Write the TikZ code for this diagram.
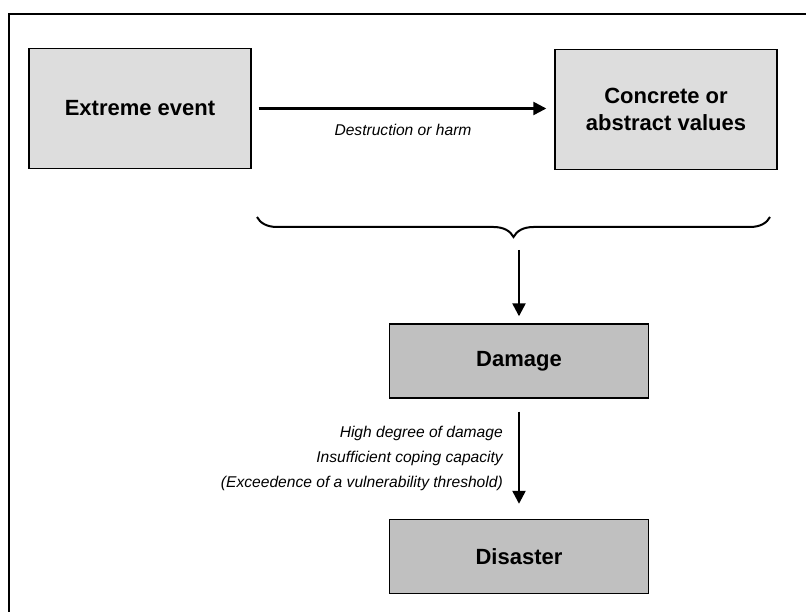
\documentclass[tikz,border=0pt]{standalone}
\usepackage{fontspec}
\setmainfont{Liberation Sans}
\usetikzlibrary{arrows.meta, positioning, decorations.pathreplacing}
\definecolor{boxlight}{HTML}{DDDDDD}
\definecolor{boxdark}{HTML}{C0C0C0}

\begin{document}
\begin{tikzpicture}[
    x=1pt, y=-1pt,
    block/.style={rectangle, draw, line width=1.4pt, minimum width=222pt, minimum height=120pt, align=center, fill=boxlight, inner sep=0pt, font=\fontsize{22}{27}\selectfont\bfseries},
    result/.style={block, fill=boxdark, minimum width=259pt, minimum height=74pt},
    arrow/.style={-{Triangle[length=13pt, width=13pt]}, line width=2.4pt},
    note/.style={font=\fontsize{15.6}{25}\selectfont\itshape, inner sep=0pt},
]
\useasboundingbox (0,0) rectangle (806,612);

% Frame (open at right and bottom)
\draw[line width=2pt] (9,612) -- (9,14) -- (806,14);

\node[block]  (event)    at (140,108.5) {Extreme event};
\node[block]  (values)   at (666,109.5) {Concrete or\\abstract values};
\node[result] (damage)   at (519,361)   {Damage};
\node[result] (disaster) at (519,556.5) {Disaster};

% Brace under both boxes
\coordinate (braceL) at (257,217);
\coordinate (braceR) at (770,217);
\draw[line width=2pt, decorate, decoration={brace, mirror, amplitude=20pt}] (braceL) -- (braceR);
\coordinate (braceTip) at (519,250);

% Flow
\draw[arrow, shorten <=7pt, shorten >=8pt] (event.east) -- (event.east -| values.west)
    node[midway, below=14pt, note] {Destruction or harm};
\draw[arrow, shorten >=7pt] (braceTip) -- (damage.north);
\draw[arrow, shorten <=13pt, shorten >=15pt] (damage.south) -- (disaster.north);

\node[note, align=right, anchor=east] (criteria) at (503,458)
    {High degree of damage\\Insufficient coping capacity\\(Exceedence of a vulnerability threshold)};

\end{tikzpicture}
\end{document}
